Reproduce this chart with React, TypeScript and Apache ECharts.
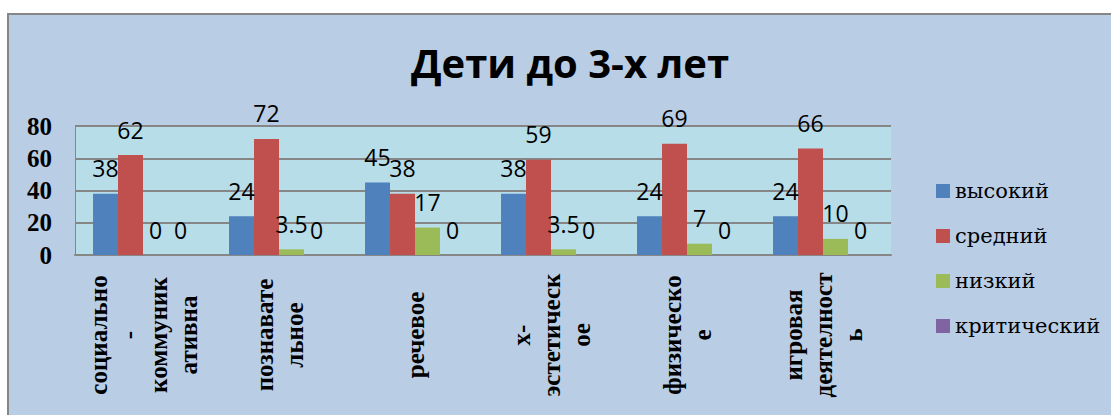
import React, { useEffect, useRef } from "react";
import * as echarts from "echarts";

const titleText = "Дети до 3-х лет";
const categories = [
  "социально\n-\nкоммуник\nативна",
  "познавате\nльное",
  "речевое",
  "х-\nэстетическ\nое",
  "физическо\nе",
  "игровая\nдеятелност\nь",
];
const seriesNames = ["высокий", "средний", "низкий", "критический"];
const highValues = [38, 24, 45, 38, 24, 24];
const midValues = [62, 72, 38, 59, 69, 66];
const lowValues = [0, 3.5, 17, 3.5, 7, 10];
const criticalValues = [0, 0, 0, 0, 0, 0];
const seriesColors = ["#4f81bd", "#c0504d", "#9bbb59", "#8064a2"];
const yMin = 0;
const yMax = 80;
const yInterval = 20;

const SERIF = "Liberation Serif";

export default function App() {
  const ref = useRef<HTMLDivElement>(null);
  useEffect(() => {
    if (!ref.current) return;
    const chart = echarts.init(ref.current, null, { renderer: "svg" });
    const valueSets = [highValues, midValues, lowValues, criticalValues];
    chart.setOption({
      animation: false,
      backgroundColor: "transparent",
      title: {
        text: titleText,
        left: 565,
        top: 37,
        textAlign: "center",
        textStyle: {
          fontFamily: "Open Sans",
          fontWeight: "bold",
          fontSize: 40,
          color: "#000",
        },
      },
      legend: {
        show: true,
        orient: "vertical",
        left: 931,
        top: 171,
        itemWidth: 14,
        itemHeight: 14,
        itemGap: 15,
        icon: "rect",
        data: seriesNames,
        textStyle: {
          fontFamily: "DejaVu Serif",
          fontSize: 21,
          lineHeight: 30,
          color: "#000",
        },
      },
      grid: {
        left: 75,
        top: 126,
        width: 816,
        height: 129,
        show: true,
        backgroundColor: "#b7dde8",
        borderWidth: 0,
      },
      xAxis: {
        type: "category",
        data: categories,
        axisLine: { show: true, lineStyle: { color: "#868686", width: 2 } },
        axisTick: { show: false },
        axisLabel: {
          rotate: 90,
          interval: 0,
          align: "center",
          verticalAlign: "middle",
          margin: 80,
          fontFamily: SERIF,
          fontWeight: "bold",
          fontSize: 25,
          lineHeight: 30,
          color: "#000",
        },
      },
      yAxis: {
        type: "value",
        min: yMin,
        max: yMax,
        interval: yInterval,
        axisLine: { show: true, lineStyle: { color: "#868686", width: 1 } },
        axisTick: { show: false },
        splitLine: { show: true, lineStyle: { color: "#868686", width: 2 } },
        axisLabel: {
          margin: 23,
          fontFamily: SERIF,
          fontWeight: "bold",
          fontSize: 25,
          color: "#000",
        },
      },
      series: seriesNames.map((name, i) => ({
        name,
        type: "bar",
        data: valueSets[i],
        barGap: "0%",
        barCategoryGap: "26.5%",
        itemStyle: { color: seriesColors[i] },
        label: {
          show: true,
          position: "top",
          distance: 14,
          fontFamily: "Open Sans",
          fontSize: 23,
          color: "#000",
        },
      })),
    });
    return () => chart.dispose();
  }, []);
  return (
    <>
      <div
        style={{
          position: "fixed",
          left: 7,
          top: 13,
          width: 1130,
          height: 430,
          boxSizing: "border-box",
          border: "2px solid #868686",
          background: "#b9cde5",
        }}
      />
      <div
        ref={ref}
        style={{ position: "fixed", left: 0, top: 0, width: 1111, height: 415 }}
      />
    </>
  );
}
